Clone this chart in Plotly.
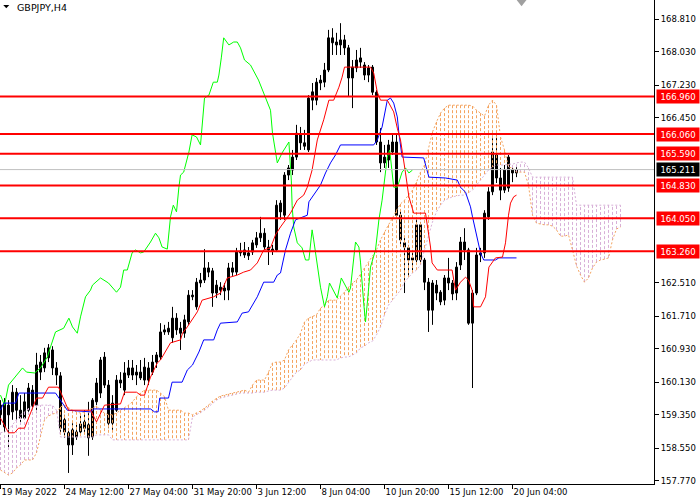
import plotly.graph_objects as go

# GBPJPY H4 with Ichimoku and horizontal levels (MT4 look)

symbol = "GBPJPY,H4"

x_label_bars = [0, 16, 32, 48, 64, 80, 96, 112, 128]
x_labels = ["19 May 2022", "24 May 12:00", "27 May 04:00", "31 May 20:00", "3 Jun 12:00",
            "8 Jun 04:00", "10 Jun 20:00", "15 Jun 12:00", "20 Jun 04:00"]

y_ticks = [168.81, 168.03, 167.23, 166.45, 162.51, 161.71, 160.93, 160.13, 159.35, 158.55, 157.77]

levels = [166.96, 166.06, 165.59, 164.83, 164.05, 163.26]
bid = 165.211

opens = [159.35, 159.06, 159.58, 159.42, 159.89, 159.46, 159.27, 159.46, 159.94, 159.58,
         160.37, 160.47, 160.71, 160.90, 160.47, 160.28, 159.23, 158.92, 158.63, 158.82,
         158.94, 159.18, 159.11, 158.82, 159.66, 159.87, 160.73, 160.06, 159.15, 159.46,
         160.11, 159.94, 160.30, 160.47, 160.30, 160.23, 160.18, 160.47, 160.37, 160.61,
         160.73, 161.33, 161.33, 161.19, 161.66, 161.42, 161.30, 161.57, 162.17, 161.93,
         162.50, 162.57, 162.86, 162.79, 162.26, 162.40, 162.31, 162.33, 162.86, 162.76,
         163.22, 163.29, 163.15, 163.24, 163.41, 163.58, 163.69, 163.36, 163.31, 163.29,
         164.41, 164.12, 165.08, 165.20, 165.51, 166.04, 165.85, 165.68, 166.87, 166.87,
         167.35, 167.30, 167.59, 168.24, 168.19, 168.19, 168.31, 168.12, 167.40, 167.64,
         167.78, 167.71, 167.64, 167.66, 167.06, 165.87, 165.37, 165.80, 165.63, 165.87,
         164.12, 163.46, 163.34, 163.05, 163.05, 163.89, 163.05, 162.52, 161.85, 162.45,
         162.28, 162.09, 162.62, 162.50, 162.26, 162.93, 163.48, 163.29, 161.54, 162.26,
         163.17, 163.22, 164.08, 164.68, 165.56, 165.01, 164.72, 164.77, 165.13, 165.13]

highs = [159.70, 159.75, 159.70, 160.06, 159.99, 159.82, 159.87, 160.11, 160.06, 160.83,
         160.78, 160.95, 161.04, 160.99, 160.61, 160.37, 159.35, 159.03, 159.15, 159.11,
         159.35, 159.46, 159.66, 159.75, 160.23, 160.73, 160.85, 160.18, 159.82, 160.30,
         160.37, 160.61, 160.66, 160.66, 160.54, 160.66, 160.71, 160.61, 160.78, 160.85,
         161.54, 161.50, 161.57, 161.93, 161.78, 161.57, 161.74, 162.33, 162.33, 162.62,
         162.74, 163.31, 163.00, 162.86, 162.57, 162.52, 162.50, 162.98, 163.00, 163.34,
         163.46, 163.48, 163.36, 163.53, 163.72, 164.08, 163.81, 163.53, 163.41, 164.48,
         164.48, 165.15, 165.32, 165.68, 166.28, 166.23, 166.16, 166.99, 167.28, 167.40,
         167.47, 167.76, 168.55, 168.59, 168.48, 168.71, 168.43, 168.19, 167.83, 168.07,
         168.12, 167.78, 167.71, 167.71, 167.11, 166.20, 165.80, 165.92, 166.08, 166.08,
         164.24, 163.58, 163.41, 163.29, 164.01, 163.96, 163.10, 162.62, 162.57, 162.57,
         162.33, 162.69, 163.10, 162.57, 163.00, 163.60, 163.81, 163.34, 162.33, 163.34,
         163.34, 164.24, 164.79, 165.96, 166.11, 165.25, 165.32, 165.56, 165.32, 165.27]

lows = [159.11, 158.94, 158.58, 159.23, 159.23, 159.18, 159.23, 159.42, 159.46, 159.39,
        160.18, 160.37, 160.61, 160.30, 160.06, 158.94, 158.80, 157.96, 158.39, 158.75,
        158.87, 158.94, 158.37, 158.75, 159.58, 159.75, 159.99, 159.03, 158.99, 159.42,
        159.99, 159.82, 160.23, 160.18, 160.06, 160.18, 160.06, 160.06, 160.30, 160.47,
        160.66, 161.26, 161.26, 161.07, 161.26, 160.90, 161.19, 161.50, 162.09, 161.86,
        162.40, 162.50, 162.64, 161.93, 162.14, 162.21, 162.09, 162.09, 162.67, 162.69,
        163.14, 163.10, 163.05, 163.17, 163.34, 163.48, 163.29, 162.93, 163.17, 163.24,
        164.01, 164.01, 164.96, 165.08, 165.44, 165.68, 165.68, 165.63, 166.63, 166.75,
        167.11, 167.18, 167.54, 167.95, 167.95, 167.95, 167.95, 166.95, 166.68, 167.54,
        167.64, 167.35, 167.30, 166.99, 165.80, 165.15, 165.25, 165.25, 165.56, 164.05,
        163.41, 162.26, 162.64, 162.81, 163.00, 163.00, 162.33, 161.33, 161.50, 162.09,
        161.97, 161.97, 162.33, 162.09, 162.09, 162.81, 163.05, 161.50, 159.99, 162.21,
        163.00, 163.10, 164.01, 164.60, 164.89, 164.48, 164.65, 164.68, 164.91, 165.03]

closes = [159.58, 159.63, 159.35, 159.89, 159.46, 159.27, 159.66, 159.99, 159.56, 160.54,
          160.61, 160.83, 160.95, 160.47, 160.30, 159.03, 158.94, 158.63, 158.99, 158.94,
          159.13, 159.03, 158.80, 159.70, 160.11, 160.66, 160.06, 159.15, 159.63, 160.18,
          160.18, 160.35, 160.47, 160.30, 160.37, 160.37, 160.49, 160.18, 160.61, 160.78,
          161.33, 161.38, 161.42, 161.66, 161.38, 161.30, 161.62, 162.21, 162.21, 162.52,
          162.57, 162.86, 162.76, 162.26, 162.45, 162.33, 162.38, 162.86, 162.76, 163.24,
          163.26, 163.17, 163.22, 163.46, 163.58, 163.69, 163.36, 163.29, 163.26, 164.36,
          164.20, 165.08, 165.25, 165.51, 166.08, 165.85, 165.77, 166.92, 167.07, 167.30,
          167.28, 167.59, 168.36, 168.36, 168.26, 168.31, 168.12, 167.40, 167.66, 167.83,
          167.88, 167.47, 167.47, 167.06, 165.87, 165.37, 165.51, 165.44, 165.87, 164.12,
          163.53, 163.36, 163.05, 163.10, 163.89, 163.05, 162.52, 161.85, 162.50, 162.26,
          162.05, 162.62, 162.50, 162.24, 162.88, 163.48, 163.29, 161.54, 162.26, 163.17,
          163.22, 164.17, 164.68, 165.63, 165.01, 164.72, 165.20, 165.51, 165.20, 165.21]

# Ichimoku lines, read at their corners (bar index, price)
tenkan_x = [0, 2, 3.5, 4.5, 6, 9, 10.5, 12, 14.5, 16.5, 17, 22.5, 24, 26, 30, 31, 34, 35, 36,
            37.5, 39.2, 40, 42.5, 45, 45.5, 46.7, 49.2, 50.4, 53.3, 55, 56.7, 59.2, 60.8, 62.5,
            64.2, 65.8, 67.5, 68.75, 70, 72.5, 74.2, 75.8, 76.7, 77.9, 79.2, 80.8, 82.1, 83.3,
            84.6, 85.4, 86, 92.5, 93.3, 94.2, 95, 96.7, 98.3, 99.2, 100, 101.25, 102.1, 103.3,
            106.25, 107.5, 107.9, 109.2, 112.9, 113.75, 115, 116.25, 117, 117.9, 118.3, 120,
            121.25, 122.1, 123.75, 125.5, 126.25, 127, 127.5, 128.3, 129]
tenkan_y = [159.27, 158.92, 158.92, 159.03, 159.03, 159.75, 159.75, 160.01, 160.01, 159.58,
            159.46, 159.46, 159.18, 159.58, 159.61, 159.89, 159.89, 159.82, 159.82, 160.25,
            160.59, 160.66, 161.07, 161.14, 161.30, 161.45, 161.81, 162.09, 162.17, 162.26,
            162.62, 162.69, 162.76, 162.81, 162.98, 163.29, 163.34, 163.65, 163.84, 164.17,
            164.48, 164.60, 164.79, 165.20, 165.92, 166.40, 166.87, 166.87, 167.18, 167.42,
            167.66, 167.66, 167.52, 167.06, 166.87, 166.87, 166.59, 166.20, 165.92, 165.13,
            164.56, 164.17, 164.17, 163.36, 162.98, 162.81, 162.81, 162.33, 162.52, 162.64,
            162.57, 162.33, 161.93, 161.93, 162.17, 162.88, 163.10, 163.12, 163.46, 164.12,
            164.41, 164.56, 164.60]

kijun_x = [0, 0.8, 3.75, 4.6, 13.75, 15, 16.7, 22.5, 23.3, 37.5, 38.5, 39.4, 39.8, 42, 42.9,
           45.4, 46.7, 48, 49.6, 50.8, 53.3, 54.2, 55, 59.2, 60.4, 62, 63.3, 64.2, 65.8, 68.3,
           69.2, 70, 71.25, 72.5, 73.75, 76.7, 77.1, 78.3, 80, 81.25, 82.5, 83.75, 85, 93.3,
           94.2, 95.4, 96.2, 96.7, 97.5, 98.3, 99.2, 99.6, 100.4, 105.8, 107.1, 111.25, 114.2,
           115, 116.25, 117.5, 118, 118.75, 119.6, 120, 120.8, 123.75, 124.6, 129]
kijun_y = [159.46, 159.63, 159.63, 159.87, 159.87, 159.70, 159.46, 159.42, 159.49, 159.49,
           159.42, 159.42, 159.75, 159.75, 160.13, 160.13, 160.42, 160.54, 160.85, 161.14,
           161.14, 161.38, 161.54, 161.57, 161.78, 161.81, 162.02, 162.17, 162.52, 162.52,
           162.69, 162.74, 163.29, 163.69, 164.01, 164.12, 164.44, 164.60, 164.84, 165.13,
           165.37, 165.56, 165.80, 165.80, 165.92, 166.23, 166.63, 166.87, 166.92, 166.80,
           166.47, 166.08, 165.51, 165.49, 165.03, 165.01, 164.96, 164.79, 164.67, 164.32,
           164.08, 163.77, 163.46, 163.22, 163.05, 163.05, 163.10, 163.10]

chikou_x = [0, 1, 2, 3, 5.5, 6.5, 8.5, 10, 11.7, 12.5, 13.75, 15.8, 17.1, 18, 19.2, 20, 21.25,
            22.5, 23, 25, 27, 29, 30, 30.8, 31.7, 32.9, 33.75, 35, 35.8, 37.5, 38.75, 39.6, 40.4,
            41.7, 42.5, 43.2, 44, 44.6, 45, 45.8, 46.7, 47.1, 47.9, 49, 50, 50.4, 51, 52.1, 52.7,
            53.2, 54.2, 54.6, 55.2, 55.8, 57.1, 58.3, 59.2, 60, 61, 62.5, 64.5, 66, 67.5, 68,
            68.75, 69.2, 70.4, 72.1, 72.7, 72.9, 73.3, 74.2, 75.4, 76.25, 77.1, 77.5, 77.9, 78.3,
            79.2, 80, 81, 81.7, 82.25, 82.9, 84.2, 85.2, 86.25, 87.1, 87.5, 88.75, 89.6, 90, 90.8,
            91.25, 91.7, 92.5, 93.75, 94.6, 95.4, 96.2, 96.7, 97.3, 98.3, 99.2, 100.4, 101.25,
            102.1, 103]
chikou_y = [159.82, 159.58, 160.06, 160.18, 160.47, 160.37, 160.35, 160.47, 160.73, 160.97,
            161.33, 161.42, 161.66, 161.45, 161.30, 161.69, 162.17, 162.33, 162.45, 162.62,
            162.50, 162.28, 162.40, 162.81, 162.81, 163.22, 163.29, 163.22, 163.24, 163.48,
            163.69, 163.58, 163.36, 163.31, 164.08, 164.36, 164.20, 164.79, 165.08, 165.15,
            165.44, 165.63, 166.04, 165.99, 165.80, 166.23, 166.92, 166.99, 167.16, 167.30,
            167.30, 167.47, 167.88, 168.36, 168.19, 168.26, 168.26, 168.12, 167.83, 167.71,
            167.35, 166.99, 166.63, 166.08, 165.61, 165.37, 165.61, 165.87, 164.96, 164.36,
            163.84, 163.46, 163.34, 163.05, 163.05, 163.36, 163.77, 163.53, 162.88, 162.40,
            161.93, 162.17, 162.50, 162.38, 162.14, 162.62, 162.45, 162.28, 162.38, 163.48,
            163.36, 163.00, 162.02, 161.57, 162.02, 162.88, 163.29, 164.01, 164.48, 165.20,
            165.51, 165.68, 164.79, 164.79, 165.15, 165.25, 165.13, 165.20]

# Senkou spans, one value per bar (cloud runs 26 bars past the last candle)
span_a = [158.03, 157.96, 157.91, 157.96, 158.08, 158.15, 158.27, 158.27, 158.27, 158.44,
          158.82, 159.23, 159.32, 159.37, 159.39, 159.54, 159.58, 159.51, 159.46, 159.42,
          159.39, 159.42, 159.46, 159.51, 159.56, 159.46, 159.39, 159.35, 159.35, 159.39,
          159.46, 159.51, 159.58, 159.66, 159.78, 159.87, 159.94, 159.94, 159.94, 159.94,
          159.87, 159.78, 159.46, 159.46, 159.46, 159.46, 159.39, 159.39, 159.35, 159.39,
          159.44, 159.51, 159.58, 159.68, 159.75, 159.80, 159.82, 159.85, 159.87, 159.89,
          159.92, 159.94, 159.89, 160.06, 160.18, 160.18, 160.18, 160.37, 160.59, 160.61,
          160.61, 160.66, 160.90, 161.02, 161.14, 161.30, 161.57, 161.66, 161.71, 161.74,
          161.90, 161.97, 162.09, 162.09, 162.09, 162.19, 162.28, 162.40, 162.50, 162.57,
          162.71, 162.86, 162.98, 163.12, 163.29, 163.53, 163.72, 163.89, 164.05, 164.24,
          164.39, 164.48, 164.60, 164.72, 164.91, 165.15, 165.32, 165.68, 166.11, 166.35,
          166.56, 166.68, 166.75, 166.75, 166.75, 166.75, 166.75, 166.75, 166.73, 166.63,
          166.56, 166.49, 166.75, 166.87, 166.75, 165.99, 165.68, 165.27, 165.25, 165.15,
          165.15, 165.15, 164.84, 164.12, 163.93, 163.91, 163.89, 163.89, 163.86, 163.77,
          163.62, 163.62, 163.65, 163.29, 162.91, 162.69, 162.52, 162.62, 162.86, 163.00,
          163.05, 163.07, 163.10, 163.53, 163.79, 163.84]

span_b = [158.92, 158.94, 158.99, 159.11, 159.23, 159.35, 159.42, 159.51, 159.58, 159.58,
          159.58, 159.58, 159.58, 159.58, 159.46, 158.82, 158.82, 158.82, 158.82, 158.82,
          158.82, 158.82, 158.82, 158.82, 158.87, 158.87, 158.87, 158.87, 158.75, 158.75,
          158.75, 158.75, 158.75, 158.75, 158.75, 158.75, 158.75, 158.75, 158.75, 158.75,
          158.75, 158.75, 158.75, 158.75, 158.75, 158.75, 158.75, 158.75, 159.30, 159.35,
          159.39, 159.46, 159.54, 159.63, 159.70, 159.75, 159.78, 159.80, 159.82, 159.85,
          159.87, 159.87, 159.87, 159.87, 159.89, 159.89, 159.89, 159.92, 159.94, 159.94,
          159.94, 159.99, 160.13, 160.25, 160.37, 160.42, 160.56, 160.61, 160.66, 160.66,
          160.66, 160.66, 160.66, 160.66, 160.66, 160.71, 160.73, 160.73, 160.78, 160.83,
          160.95, 160.99, 161.07, 161.11, 161.26, 161.45, 161.74, 161.97, 162.09, 162.21,
          162.33, 162.52, 162.64, 162.74, 162.81, 162.93, 163.29, 163.65, 163.96, 164.20,
          164.36, 164.48, 164.53, 164.56, 164.58, 164.60, 164.60, 164.65, 164.72, 164.84,
          164.96, 165.08, 165.20, 165.27, 165.32, 165.32, 165.32, 165.34, 165.34, 165.37,
          165.39, 165.39, 165.25, 165.03, 165.03, 165.03, 165.03, 165.03, 165.03, 165.03,
          165.03, 165.03, 165.03, 165.03, 164.36, 164.36, 164.36, 164.36, 164.36, 164.36,
          164.36, 164.36, 164.36, 164.36, 164.36, 164.36]

SANDY = "#F4A460"
THISTLE = "#D8B0D8"
FONT = "DejaVu Sans"

bars = list(range(len(closes)))
cloud_bars = list(range(len(span_a)))

fig = go.Figure()

# candles: wicks as line segments, bodies as bars (white = up, black = down)
wick_x, wick_y = [], []
for i, (h, l) in enumerate(zip(highs, lows)):
    wick_x += [i, i, None]
    wick_y += [l, h, None]
fig.add_trace(go.Scatter(x=wick_x, y=wick_y, mode="lines", hoverinfo="skip",
                         line=dict(color="black", width=1)))

body_base = [min(o, c) for o, c in zip(opens, closes)]
body_size = [max(abs(c - o), 0.005) for o, c in zip(opens, closes)]
body_fill = ["white" if c >= o else "black" for o, c in zip(opens, closes)]
fig.add_trace(go.Bar(x=bars, base=body_base, y=body_size, width=0.5, hoverinfo="skip",
                     marker=dict(color=body_fill, line=dict(color="black", width=1))))

# cloud drawn as a dotted histogram between the two spans
up_x, up_y, dn_x, dn_y = [], [], [], []
for i, (a, b) in enumerate(zip(span_a, span_b)):
    if a >= b:
        up_x += [i, i, None]
        up_y += [a, b, None]
    else:
        dn_x += [i, i, None]
        dn_y += [a, b, None]

fig.add_trace(go.Scatter(x=up_x, y=up_y, mode="lines", hoverinfo="skip",
                         line=dict(color=SANDY, width=1, dash="3px,2px")))
fig.add_trace(go.Scatter(x=dn_x, y=dn_y, mode="lines", hoverinfo="skip",
                         line=dict(color=THISTLE, width=1, dash="3px,2px")))
fig.add_trace(go.Scatter(x=cloud_bars, y=span_a, mode="lines", hoverinfo="skip",
                         line=dict(color=SANDY, width=1, dash="2px,2px")))
fig.add_trace(go.Scatter(x=cloud_bars, y=span_b, mode="lines", hoverinfo="skip",
                         line=dict(color=THISTLE, width=1, dash="2px,2px")))

fig.add_trace(go.Scatter(x=chikou_x, y=chikou_y, mode="lines", hoverinfo="skip",
                         line=dict(color="#00FF00", width=1)))
fig.add_trace(go.Scatter(x=kijun_x, y=kijun_y, mode="lines", hoverinfo="skip",
                         line=dict(color="#0000FF", width=1)))
fig.add_trace(go.Scatter(x=tenkan_x, y=tenkan_y, mode="lines", hoverinfo="skip",
                         line=dict(color="#FF0000", width=1)))

# bid line and its label
fig.add_shape(type="line", xref="paper", x0=0, x1=1, yref="y", y0=bid, y1=bid,
              line=dict(color="#C0C0C0", width=1))
fig.add_annotation(x=1, xref="paper", y=bid, yref="y", text=f"{bid:.3f}", showarrow=False,
                   xanchor="left", xshift=2, bgcolor="black", width=40, height=11,
                   font=dict(family=FONT, size=8.5, color="white"))

for lv in levels:
    fig.add_shape(type="line", xref="paper", x0=0, x1=1, yref="y", y0=lv, y1=lv,
                  line=dict(color="#FF0000", width=2))
    fig.add_annotation(x=1, xref="paper", y=lv, yref="y", text=f"{lv:.3f}", showarrow=False,
                       xanchor="left", xshift=2, bgcolor="#FF0000", width=40, height=11,
                       font=dict(family=FONT, size=8.5, color="white"))

# symbol caption with the little menu triangle
fig.add_shape(type="path", xref="paper", yref="paper", fillcolor="black", line=dict(width=0),
              path="M 0.005,0.9897 L 0.0142,0.9897 L 0.0096,0.9828 Z")
fig.add_annotation(x=0.0225, xref="paper", y=0.9855, yref="paper", text=symbol,
                   showarrow=False, xanchor="left", yanchor="middle",
                   font=dict(family=FONT, size=9.5, color="black"))
# chart shift marker
fig.add_shape(type="path", xref="paper", yref="paper", fillcolor="#A0A0A0", line=dict(width=0),
              path="M 0.790,1 L 0.805,1 L 0.7975,0.987 Z")

fig.update_layout(
    width=700, height=500,
    margin=dict(l=0, r=46, t=0, b=16),
    paper_bgcolor="white", plot_bgcolor="white",
    showlegend=False, hovermode=False,
    xaxis=dict(range=[-0.125, 163.375], tickvals=x_label_bars, ticktext=x_labels, tickangle=0,
               ticks="outside", ticklen=4, tickcolor="black",
               ticklabelposition="outside right",
               showline=True, linecolor="black", linewidth=1,
               showgrid=False, zeroline=False,
               tickfont=dict(family=FONT, size=8.5, color="black"), fixedrange=True),
    yaxis=dict(range=[157.696, 169.264], side="right", tickvals=y_ticks,
               ticktext=[f"{v:.3f}" for v in y_ticks],
               ticks="outside", ticklen=4, tickcolor="black",
               showline=True, linecolor="black", linewidth=1,
               showgrid=False, zeroline=False,
               tickfont=dict(family=FONT, size=8.5, color="black"), fixedrange=True),
)

# the page body has a default 8px margin; drop it so the chart sits at the window corner
fig.write_html("out.html", post_script="document.body.style.margin='0';",
               config={"displayModeBar": False})
